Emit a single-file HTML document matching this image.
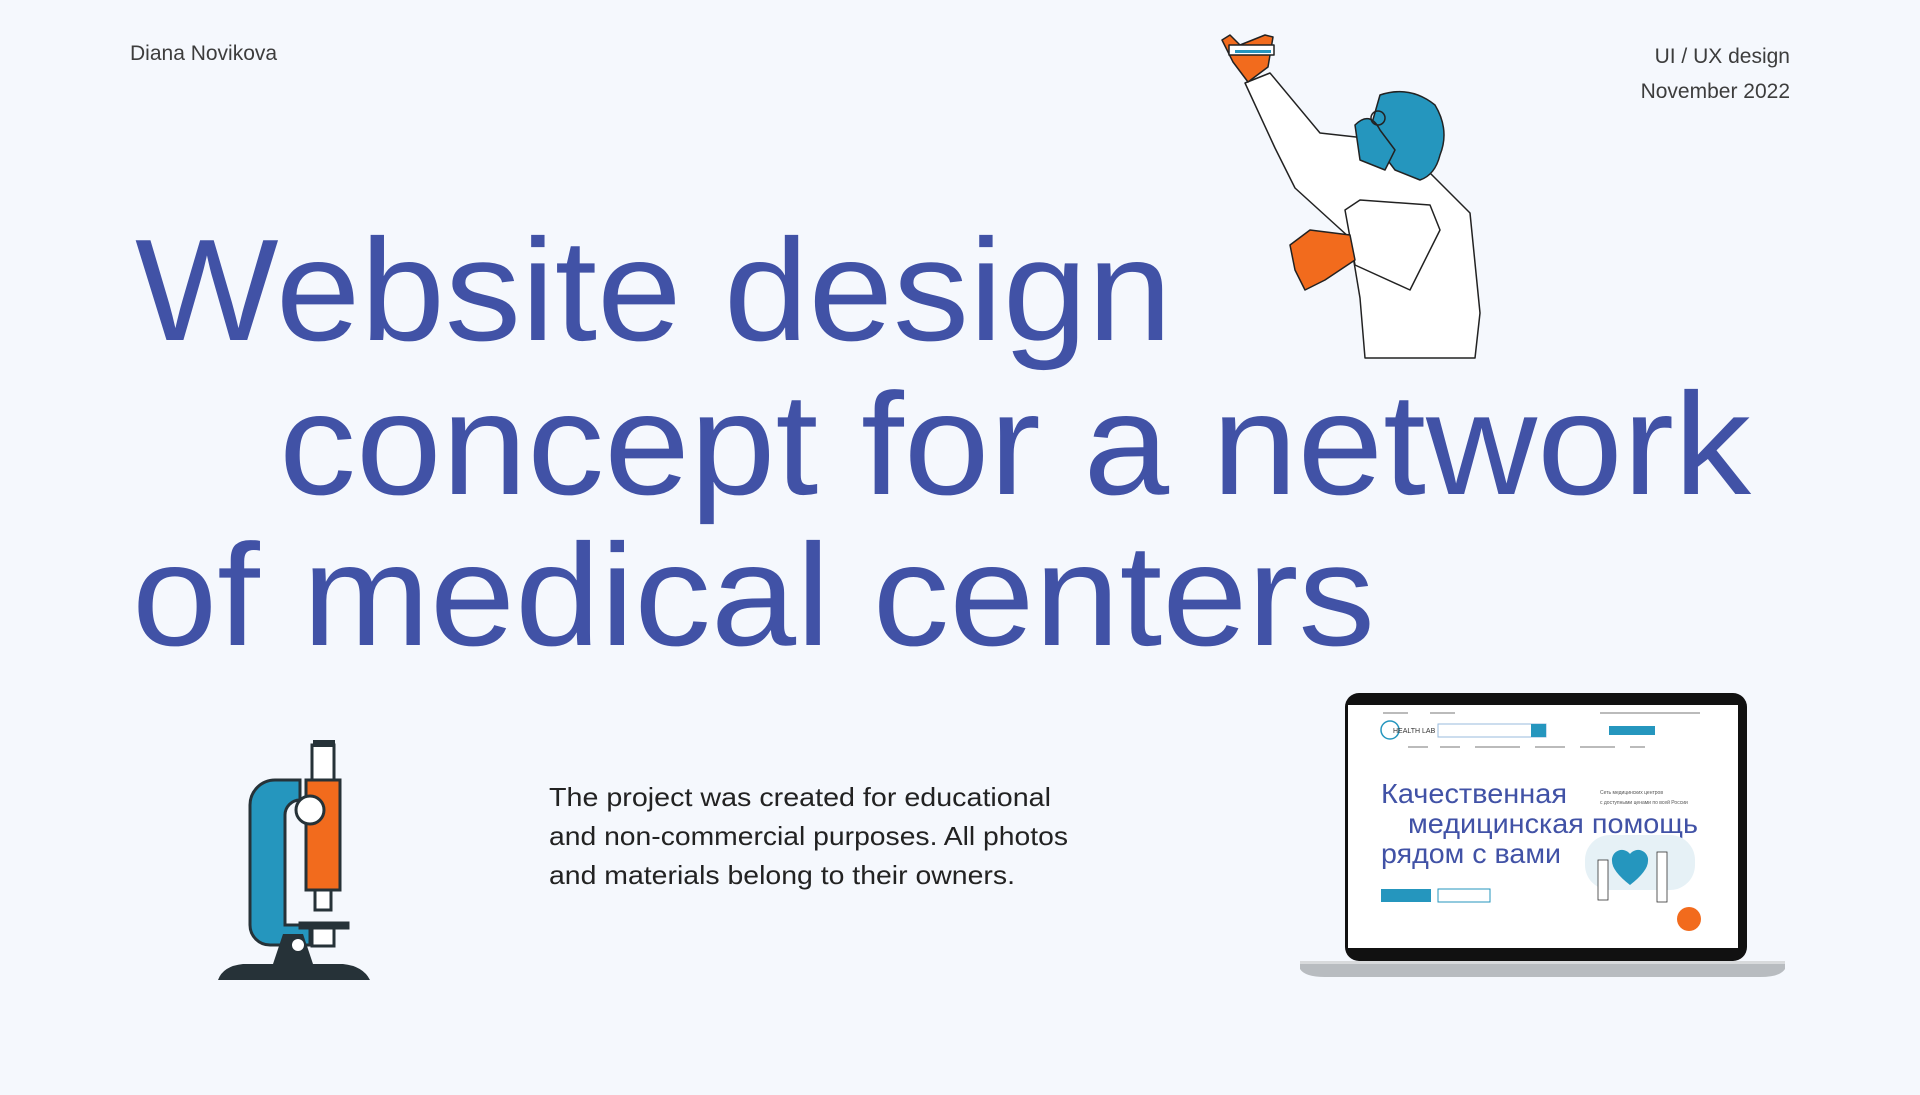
<!DOCTYPE html>
<html><head><meta charset="utf-8"><style>
html,body{margin:0;padding:0;width:1920px;height:1095px;background:#f5f8fd;overflow:hidden;font-family:"Liberation Sans",sans-serif}
.t{position:absolute;color:#3d3d3d;font-size:21px}
</style></head><body>
<div class="t" style="left:130px;top:42px">Diana Novikova</div>
<div class="t" style="right:130px;top:39px;text-align:right;line-height:35px">UI / UX design<br>November 2022</div>
<svg width="1920" height="1095" style="position:absolute;left:0;top:0">
<g fill="#4152a6" font-family="Liberation Sans, sans-serif" font-size="145">
<text x="135" y="340" textLength="1037" lengthAdjust="spacingAndGlyphs">Website design</text>
<text x="279" y="494" textLength="1472" lengthAdjust="spacingAndGlyphs">concept for a network</text>
<text x="132" y="645" textLength="1243" lengthAdjust="spacingAndGlyphs">of medical centers</text>
</g>
<g font-family="Liberation Sans, sans-serif" font-size="26" fill="#222">
<text x="549" y="806" textLength="502" lengthAdjust="spacingAndGlyphs">The project was created for educational</text>
<text x="549" y="845" textLength="519" lengthAdjust="spacingAndGlyphs">and non-commercial purposes. All photos</text>
<text x="549" y="884" textLength="466" lengthAdjust="spacingAndGlyphs">and materials belong to their owners.</text>
</g>
<!-- microscope -->
<g stroke="#263238" stroke-width="3">
<path d="M300 780 h-25 a25 25 0 0 0 -25 25 v120 a20 20 0 0 0 20 20 h40 v-20 h-25 v-110 a15 15 0 0 1 15 -15 h0z" fill="#2596be"/>
<rect x="312" y="745" width="22" height="40" fill="#fff"/>
<rect x="306" y="780" width="34" height="110" fill="#f26b1d"/>
<rect x="315" y="890" width="16" height="20" fill="#fff"/>
<circle cx="310" cy="810" r="14" fill="#fff"/>
<rect x="300" y="923" width="48" height="5" fill="#263238"/>
<rect x="312" y="928" width="22" height="18" fill="#fff"/>
</g>
<rect x="313" y="740" width="22" height="7" fill="#263238"/>
<path d="M218 980 q5 -14 25 -16 h30 l10 -30 h20 l10 30 h30 q20 2 27 16z" fill="#263238"/>
<circle cx="298" cy="945" r="6" fill="#fff"/>
<!-- doctor -->
<g stroke="#222" stroke-width="1.5" stroke-linejoin="round">
<path d="M1245 83 l25 -10 l50 60 l45 5 l30 30 l35 5 l40 40 l10 100 l-5 45 h-110 l-5 -60 l-10 -60 l-55 -50 l-20 -40z" fill="#fff"/>
<path d="M1345 210 l15 -10 l70 5 l10 25 l-30 60 l-55 -25z" fill="#fff"/>
<path d="M1290 245 l20 -15 l40 5 l5 25 l-30 20 l-20 10 l-10 -20z" fill="#f26b1d"/>
<path d="M1222 40 l8 -5 l10 10 l25 -10 l8 2 l-5 30 l-20 15 l-15 -20z" fill="#f26b1d"/>
<rect x="1229" y="45" width="45" height="10" fill="#fff"/>
<rect x="1235" y="50" width="36" height="3" fill="#2596be" stroke="none"/>
<path d="M1380 95 q30 -10 55 10 q15 25 5 50 q-5 20 -20 25 l-25 -10 l-15 -20 l-10 -20z" fill="#2596be"/>
<path d="M1355 125 q15 -15 25 5 l15 20 l-10 20 l-25 -10 z" fill="#2596be"/>
<circle cx="1378" cy="118" r="7" fill="none"/>
</g>
<!-- laptop -->
<rect x="1345" y="693" width="402" height="268" rx="14" fill="#111"/>
<rect x="1348" y="705" width="390" height="243" fill="#fff"/>
<path d="M1300 961 h485 v8 q-5 8 -25 8 h-435 q-20 0 -25 -8z" fill="#b8bcc0"/>
<rect x="1300" y="961" width="485" height="3" fill="#d8dadc"/>
<g font-family="Liberation Sans, sans-serif">
<g fill="#bbb"><rect x="1383" y="712" width="25" height="2"/><rect x="1430" y="712" width="25" height="2"/><rect x="1600" y="712" width="100" height="2"/>
<rect x="1408" y="746" width="20" height="2"/><rect x="1440" y="746" width="20" height="2"/><rect x="1475" y="746" width="45" height="2"/><rect x="1535" y="746" width="30" height="2"/><rect x="1580" y="746" width="35" height="2"/><rect x="1630" y="746" width="15" height="2"/></g>
<circle cx="1390" cy="730" r="9" fill="none" stroke="#2596be" stroke-width="1.5"/>
<text x="1393" y="733" font-size="7" fill="#333">HEALTH LAB</text>
<rect x="1438" y="724" width="108" height="13" fill="none" stroke="#9bd" stroke-width="1"/>
<rect x="1531" y="724" width="15" height="13" fill="#2596be"/>
<rect x="1609" y="726" width="46" height="9" fill="#2596be"/>
<text x="1600" y="794" font-size="5" fill="#555">Сеть медицинских центров</text>
<text x="1600" y="804" font-size="5" fill="#555">с доступными ценами по всей России</text>
<text x="1381" y="803" font-size="28" fill="#4152a6" textLength="186" lengthAdjust="spacingAndGlyphs">Качественная</text>
<text x="1408" y="833" font-size="28" fill="#4152a6" textLength="290" lengthAdjust="spacingAndGlyphs">медицинская помощь</text>
<text x="1381" y="863" font-size="28" fill="#4152a6" textLength="180" lengthAdjust="spacingAndGlyphs">рядом с вами</text>
<rect x="1381" y="889" width="50" height="13" fill="#2596be"/>
<rect x="1438" y="889" width="52" height="13" fill="none" stroke="#2596be" stroke-width="1"/>
<rect x="1585" y="835" width="110" height="55" rx="25" fill="#e6f1f6"/>
<path d="M1630 885 q-18 -14 -18 -24 a10 10 0 0 1 18 -7 a10 10 0 0 1 18 7 q0 10 -18 24z" fill="#2596be"/>
<rect x="1598" y="860" width="10" height="40" fill="#fff" stroke="#333" stroke-width="0.8"/>
<rect x="1657" y="852" width="10" height="50" fill="#fff" stroke="#333" stroke-width="0.8"/>
<circle cx="1689" cy="919" r="12" fill="#f26b1d"/>
</g>
</svg>
</body></html>
